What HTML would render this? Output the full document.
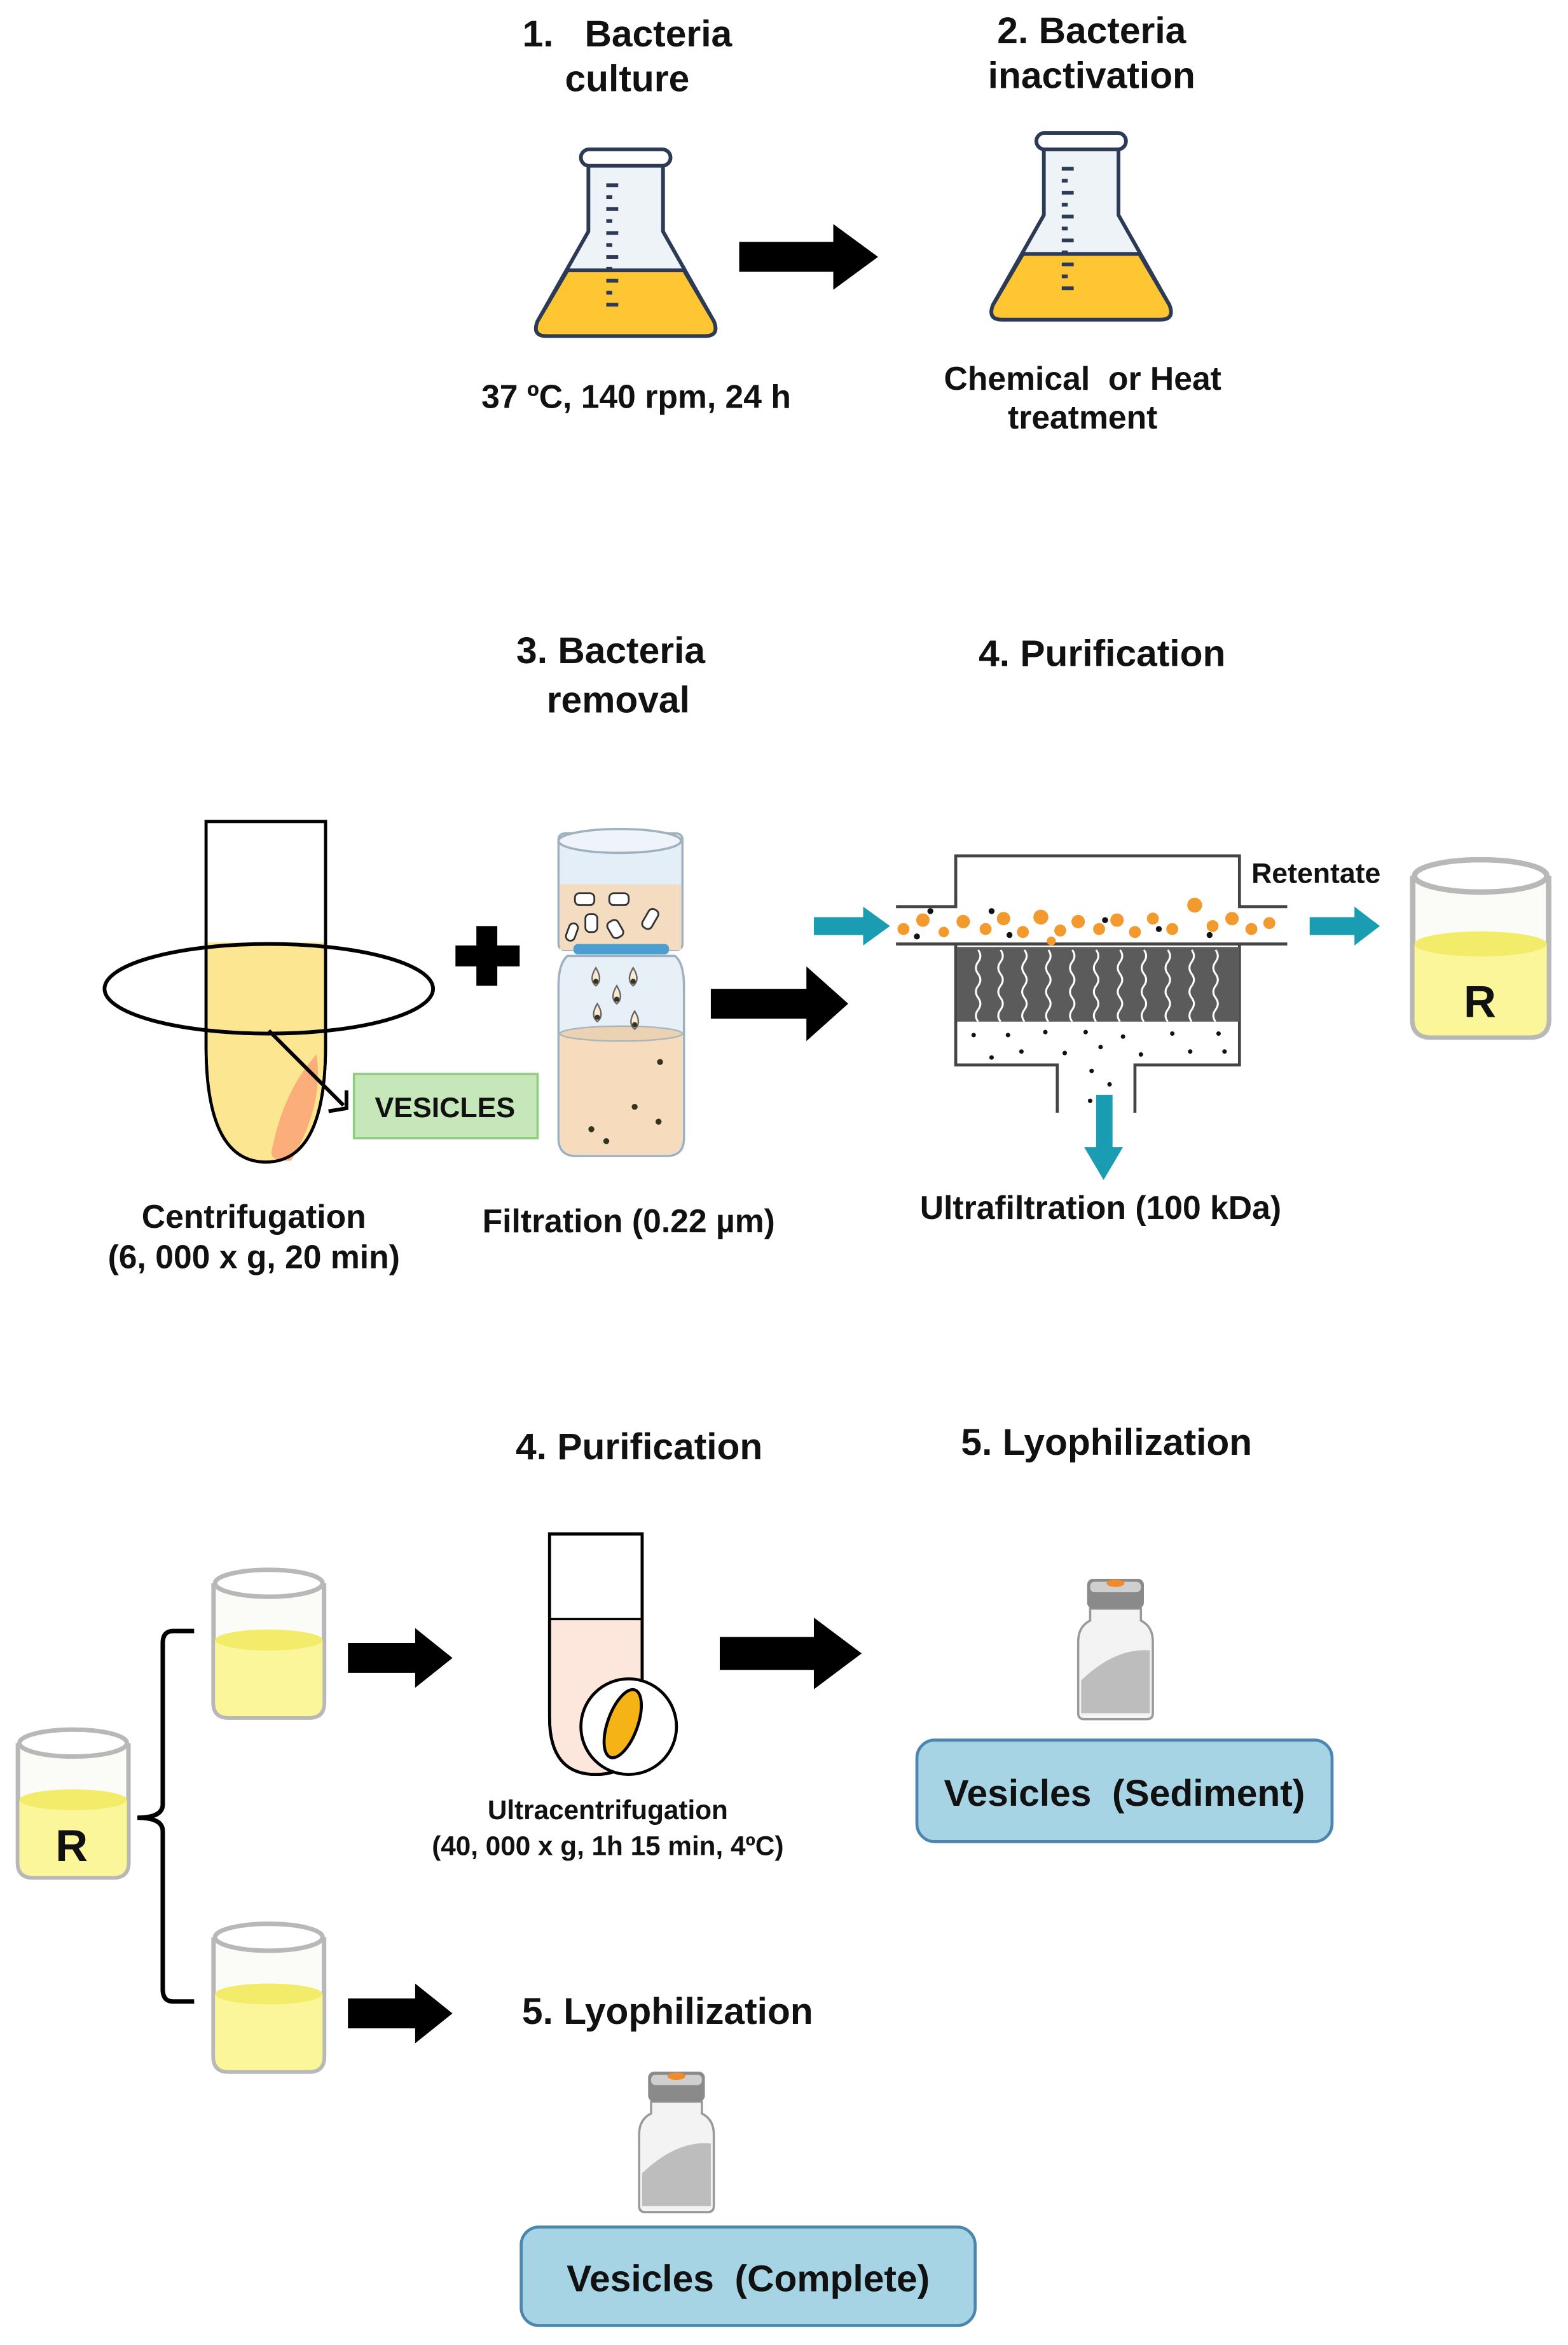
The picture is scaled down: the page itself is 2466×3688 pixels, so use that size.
<!DOCTYPE html>
<html><head><meta charset="utf-8"><style>
html,body{margin:0;padding:0;background:#fff}
svg{display:block}
text{font-family:"Liberation Sans",sans-serif;font-weight:bold;fill:#111}
</style></head><body>
<svg width="2466" height="3688" viewBox="0 0 1050 1570" preserveAspectRatio="none" xmlns="http://www.w3.org/2000/svg">
<defs>
<g id="flask">
 <path d="M36,12 L36,58 L2,118 Q-2,128 8,128 L114,128 Q124,128 120,118 L86,58 L86,12 Z" fill="#eef3f7" stroke="#2c3a55" stroke-width="2.5"/>
 <path d="M22,84 L100,84 L120,118 Q124,128 114,128 L8,128 Q-2,128 2,118 Z" fill="#fdc632" stroke="#2c3a55" stroke-width="2.5"/>
 <rect x="31" y="3" width="60" height="11" rx="5.5" fill="#fff" stroke="#2c3a55" stroke-width="2.5"/>
 <g stroke="#2c3a55" stroke-width="2.5">
  <line x1="48" y1="27" x2="56" y2="27"/><line x1="48" y1="35" x2="52" y2="35"/><line x1="48" y1="43" x2="56" y2="43"/><line x1="48" y1="51" x2="52" y2="51"/><line x1="48" y1="59" x2="56" y2="59"/><line x1="48" y1="67" x2="52" y2="67"/><line x1="48" y1="75" x2="56" y2="75"/><line x1="48" y1="83" x2="52" y2="83"/><line x1="48" y1="91" x2="56" y2="91"/><line x1="48" y1="99" x2="52" y2="99"/><line x1="48" y1="107" x2="56" y2="107"/>
 </g>
</g>
<g id="beaker">
 <path d="M0,12 L0,92 Q0,102 10,102 L64,102 Q74,102 74,92 L74,12" fill="#fbfbf8" stroke="#b8b8b8" stroke-width="3"/>
 <path d="M1,50 L1,92 Q1,101 10,101 L64,101 Q73,101 73,92 L73,50 Z" fill="#fbf69a"/>
 <ellipse cx="37" cy="50" rx="36" ry="7" fill="#f3ec6a"/>
 <ellipse cx="37" cy="12" rx="36" ry="9" fill="#fff" stroke="#b8b8b8" stroke-width="3"/>
</g>
<g id="vial">
 <path d="M8,22 L8,30 Q0,34 0,44 L0,92 Q0,96 4,96 L46,96 Q50,96 50,92 L50,44 Q50,34 42,30 L42,22 Z" fill="#f3f3f3" stroke="#999" stroke-width="1.5"/>
 <path d="M2,70 Q25,48 48,50 L48,92 L2,92 Z" fill="#bdbdbd"/>
 <rect x="6" y="2" width="38" height="20" rx="4" fill="#8a8a8a"/>
 <rect x="8" y="4" width="34" height="7" rx="3" fill="#cfcfcf"/>
 <ellipse cx="25" cy="5" rx="6" ry="2.5" fill="#f08a2a"/>
</g>
</defs>

<!-- Section 1 -->
<text x="420" y="31" font-size="25" text-anchor="middle" xml:space="preserve">1.   Bacteria</text>
<text x="420" y="61" font-size="25" text-anchor="middle">culture</text>
<use href="#flask" x="358" y="97"/>
<text x="426" y="273" font-size="22" text-anchor="middle">37 ºC, 140 rpm, 24 h</text>
<polygon points="495,162 558,162 558,150 588,172 558,194 558,182 495,182" fill="#000"/>
<text x="731" y="29" font-size="25" text-anchor="middle">2. Bacteria</text>
<text x="731" y="59" font-size="25" text-anchor="middle">inactivation</text>
<use href="#flask" x="663" y="86"/>
<text x="725" y="261" font-size="22" text-anchor="middle" xml:space="preserve">Chemical  or Heat</text>
<text x="725" y="287" font-size="22" text-anchor="middle">treatment</text>

<!-- Section 2 -->
<text x="409" y="444" font-size="25" text-anchor="middle">3. Bacteria</text>
<text x="414" y="477" font-size="25" text-anchor="middle">removal</text>
<text x="738" y="446" font-size="25" text-anchor="middle">4. Purification</text>

<!-- tube -->
<path d="M138,550 L218,550 L218,700 Q218,778 178,778 Q138,778 138,700 Z" fill="#fff" stroke="#000" stroke-width="2"/>
<path d="M139,631 L217,631 L217,700 Q217,777 178,777 Q139,777 139,700 Z" fill="#fde691"/>
<path d="M212,706 Q217,740 195,777 Q180,778 182,770 Q190,730 212,706 Z" fill="#fbae7a"/>
<path d="M138,550 L218,550 L218,700 Q218,778 178,778 Q138,778 138,700 Z" fill="none" stroke="#000" stroke-width="2"/>
<ellipse cx="180" cy="662" rx="110" ry="30" fill="none" stroke="#000" stroke-width="2.5"/>
<line x1="180" y1="690" x2="230" y2="740" stroke="#000" stroke-width="2.5"/>
<polyline points="220,744 232,742 232,730" fill="none" stroke="#000" stroke-width="2.5"/>
<rect x="237" y="719" width="123" height="43" fill="#c5e7b9" stroke="#90cc7e" stroke-width="1.5"/>
<text x="298" y="748" font-size="19" text-anchor="middle">VESICLES</text>
<!-- plus -->
<rect x="319" y="620" width="14" height="40" fill="#000"/>
<rect x="305" y="633" width="43" height="14" fill="#000"/>
<!-- filter bottle -->
<rect x="374" y="558" width="83" height="78" rx="4" fill="#e4eef6" stroke="#9fb0bf" stroke-width="1.5"/>
<ellipse cx="415" cy="563" rx="41" ry="8" fill="#eef4fa" stroke="#9fb0bf" stroke-width="1.5"/>
<rect x="375" y="592" width="81" height="44" fill="#f4dcc0"/>
<g fill="#fff" stroke="#333" stroke-width="1.2"><rect x="385" y="598" width="13" height="8" rx="3"/><rect x="408" y="598" width="13" height="8" rx="3"/><rect x="392" y="612" width="8" height="12" rx="3"/><rect x="408" y="616" width="8" height="12" rx="3" transform="rotate(-30 412 622)"/><rect x="432" y="608" width="7" height="14" rx="3" transform="rotate(30 435 615)"/><rect x="380" y="618" width="6" height="12" rx="3" transform="rotate(20 383 624)"/></g>
<rect x="384" y="632" width="64" height="7" rx="3" fill="#4a9fd0"/>
<path d="M380,640 L452,640 Q458,645 458,660 L458,762 Q458,774 446,774 L386,774 Q374,774 374,762 L374,660 Q374,645 380,640 Z" fill="#e8f0f7" stroke="#9fb0bf" stroke-width="1.5"/>
<path d="M375,692 L457,692 L457,762 Q457,773 446,773 L386,773 Q375,773 375,762 Z" fill="#f6dcbc"/>
<ellipse cx="416" cy="692" rx="41" ry="5" fill="#ead2b2" stroke="#a9b4bf"/>
<g fill="#fde8d4" stroke="#666" stroke-width="1"><path d="M399,648 q-5,8 0,12 q5,-4 0,-12z"/><path d="M424,648 q-5,8 0,12 q5,-4 0,-12z"/><path d="M413,660 q-5,8 0,12 q5,-4 0,-12z"/><path d="M400,672 q-5,8 0,12 q5,-4 0,-12z"/><path d="M425,677 q-5,8 0,12 q5,-4 0,-12z"/></g>
<g fill="#332"><circle cx="399" cy="657" r="1.7"/><circle cx="424" cy="657" r="1.7"/><circle cx="413" cy="669" r="1.7"/><circle cx="400" cy="681" r="1.7"/><circle cx="425" cy="686" r="1.7"/><circle cx="442" cy="711" r="2"/><circle cx="425" cy="741" r="2"/><circle cx="441" cy="751" r="2"/><circle cx="396" cy="756" r="2"/><circle cx="406" cy="764" r="2"/></g>
<text x="170" y="822" font-size="22" text-anchor="middle">Centrifugation</text>
<text x="170" y="849" font-size="22" text-anchor="middle">(6, 000 x g, 20 min)</text>
<text x="421" y="825" font-size="22" text-anchor="middle">Filtration (0.22 µm)</text>
<polygon points="476,662 540,662 540,647 568,672 540,697 540,682 476,682" fill="#000"/>

<!-- ultrafilter -->
<g stroke="#444" stroke-width="2" fill="none">
<polyline points="600,607 640,607 640,573 830,573 830,607 862,607"/>
<line x1="600" y1="632" x2="862" y2="632"/>
<polyline points="640,633 640,713 708,713 708,745"/>
<polyline points="830,633 830,713 760,713 760,745"/>
</g>
<rect x="641" y="634" width="189" height="50" fill="#5b5b5b"/>
<g stroke="#fff" stroke-width="1.3" fill="none">
<path d="M655,636 q3,4 0,8 q-3,4 0,8 q3,4 0,8 q-3,4 0,8 q3,4 0,8 q-3,4 0,8"/>
<path d="M670,636 q3,4 0,8 q-3,4 0,8 q3,4 0,8 q-3,4 0,8 q3,4 0,8 q-3,4 0,8"/>
<path d="M686,636 q3,4 0,8 q-3,4 0,8 q3,4 0,8 q-3,4 0,8 q3,4 0,8 q-3,4 0,8"/>
<path d="M702,636 q3,4 0,8 q-3,4 0,8 q3,4 0,8 q-3,4 0,8 q3,4 0,8 q-3,4 0,8"/>
<path d="M718,636 q3,4 0,8 q-3,4 0,8 q3,4 0,8 q-3,4 0,8 q3,4 0,8 q-3,4 0,8"/>
<path d="M734,636 q3,4 0,8 q-3,4 0,8 q3,4 0,8 q-3,4 0,8 q3,4 0,8 q-3,4 0,8"/>
<path d="M750,636 q3,4 0,8 q-3,4 0,8 q3,4 0,8 q-3,4 0,8 q3,4 0,8 q-3,4 0,8"/>
<path d="M766,636 q3,4 0,8 q-3,4 0,8 q3,4 0,8 q-3,4 0,8 q3,4 0,8 q-3,4 0,8"/>
<path d="M782,636 q3,4 0,8 q-3,4 0,8 q3,4 0,8 q-3,4 0,8 q3,4 0,8 q-3,4 0,8"/>
<path d="M798,636 q3,4 0,8 q-3,4 0,8 q3,4 0,8 q-3,4 0,8 q3,4 0,8 q-3,4 0,8"/>
<path d="M814,636 q3,4 0,8 q-3,4 0,8 q3,4 0,8 q-3,4 0,8 q3,4 0,8 q-3,4 0,8"/>
</g>
<g fill="#f29a2e">
<circle cx="605" cy="622" r="4"/><circle cx="618" cy="616" r="4.5"/><circle cx="632" cy="624" r="3.5"/><circle cx="645" cy="617" r="4.5"/><circle cx="660" cy="622" r="4"/><circle cx="672" cy="615" r="4.5"/><circle cx="685" cy="624" r="4"/><circle cx="697" cy="614" r="5"/><circle cx="710" cy="623" r="4"/><circle cx="722" cy="617" r="4.5"/><circle cx="736" cy="622" r="4"/><circle cx="748" cy="616" r="4.5"/><circle cx="760" cy="624" r="4"/><circle cx="772" cy="615" r="4"/><circle cx="785" cy="622" r="4"/><circle cx="800" cy="606" r="5"/><circle cx="812" cy="620" r="4"/><circle cx="825" cy="615" r="4.5"/><circle cx="838" cy="622" r="4"/><circle cx="850" cy="618" r="4"/><circle cx="704" cy="630" r="3"/>
</g>
<g fill="#111">
<circle cx="623" cy="610" r="2"/><circle cx="614" cy="627" r="2"/><circle cx="664" cy="610" r="2"/><circle cx="676" cy="626" r="2"/><circle cx="740" cy="616" r="2"/><circle cx="776" cy="622" r="2"/><circle cx="810" cy="626" r="2"/>
<circle cx="652" cy="693" r="1.5"/><circle cx="664" cy="708" r="1.5"/><circle cx="675" cy="693" r="1.5"/><circle cx="684" cy="704" r="1.5"/><circle cx="700" cy="691" r="1.5"/><circle cx="713" cy="705" r="1.5"/><circle cx="727" cy="691" r="1.5"/><circle cx="737" cy="701" r="1.5"/><circle cx="752" cy="694" r="1.5"/><circle cx="764" cy="706" r="1.5"/><circle cx="785" cy="692" r="1.5"/><circle cx="797" cy="704" r="1.5"/><circle cx="816" cy="692" r="1.5"/><circle cx="820" cy="704" r="1.5"/><circle cx="731" cy="717" r="1.5"/><circle cx="743" cy="726" r="1.5"/><circle cx="730" cy="737" r="1.5"/>
</g>
<polygon points="545,614 578,614 578,607 596,620 578,633 578,626 545,626" fill="#1a9db3"/>
<polygon points="877,614 907,614 907,607 924,620 907,633 907,626 877,626" fill="#1a9db3"/>
<polygon points="734,733 745,733 745,768 752,768 739,790 726,768 734,768" fill="#1a9db3"/>
<text x="838" y="591" font-size="19">Retentate</text>
<g transform="translate(946 572) scale(1.23 1.2)"><use href="#beaker"/></g>
<text x="991" y="681" font-size="30" text-anchor="middle">R</text>
<text x="737" y="816" font-size="22" text-anchor="middle">Ultrafiltration (100 kDa)</text>

<!-- Section 3 -->
<text x="428" y="977" font-size="25" text-anchor="middle">4. Purification</text>
<text x="741" y="974" font-size="25" text-anchor="middle">5. Lyophilization</text>
<use href="#beaker" x="12" y="1155"/>
<text x="48" y="1246" font-size="30" text-anchor="middle">R</text>
<g stroke="#000" stroke-width="3" fill="none">
<path d="M130,1092 L116,1092 Q109,1092 109,1100 L109,1208 Q109,1217 92,1217 Q109,1217 109,1226 L109,1332 Q109,1340 116,1340 L130,1340"/>
</g>
<use href="#beaker" x="143" y="1048"/>
<use href="#beaker" x="143" y="1285"/>
<polygon points="233,1100 278,1100 278,1090 303,1110 278,1130 278,1120 233,1120" fill="#000"/>
<polygon points="233,1338 278,1338 278,1328 303,1348 278,1368 278,1358 233,1358" fill="#000"/>
<!-- ultracentrifuge tube -->
<path d="M368,1027 L430,1027 L430,1150 Q430,1188 399,1188 Q368,1188 368,1150 Z" fill="#fde6dc" stroke="#000" stroke-width="2"/>
<rect x="369" y="1028" width="60" height="56" fill="#fff"/>
<line x1="368" y1="1084" x2="430" y2="1084" stroke="#000" stroke-width="1.5"/>
<path d="M368,1027 L430,1027 L430,1150 Q430,1188 399,1188 Q368,1188 368,1150 Z" fill="none" stroke="#000" stroke-width="2"/>
<circle cx="421" cy="1156" r="32" fill="#fff" stroke="#000" stroke-width="2"/>
<ellipse cx="417" cy="1154" rx="10" ry="24" transform="rotate(20 417 1154)" fill="#f6b316" stroke="#000" stroke-width="2"/>
<text x="407" y="1218" font-size="18" text-anchor="middle">Ultracentrifugation</text>
<text x="407" y="1242" font-size="18" text-anchor="middle">(40, 000 x g, 1h 15 min, 4ºC)</text>
<polygon points="482,1096 545,1096 545,1083 577,1107 545,1131 545,1118 482,1118" fill="#000"/>
<use href="#vial" x="722" y="1055"/>
<rect x="614" y="1165" width="278" height="68" rx="12" fill="#a7d4e4" stroke="#4c86ae" stroke-width="2"/>
<text x="753" y="1209" font-size="25" text-anchor="middle" xml:space="preserve">Vesicles  (Sediment)</text>
<text x="447" y="1355" font-size="25" text-anchor="middle">5. Lyophilization</text>
<use href="#vial" x="428" y="1385"/>
<rect x="349" y="1491" width="304" height="66" rx="12" fill="#a7d4e4" stroke="#4c86ae" stroke-width="2"/>
<text x="501" y="1534" font-size="25" text-anchor="middle" xml:space="preserve">Vesicles  (Complete)</text>
</svg>
</body></html>
